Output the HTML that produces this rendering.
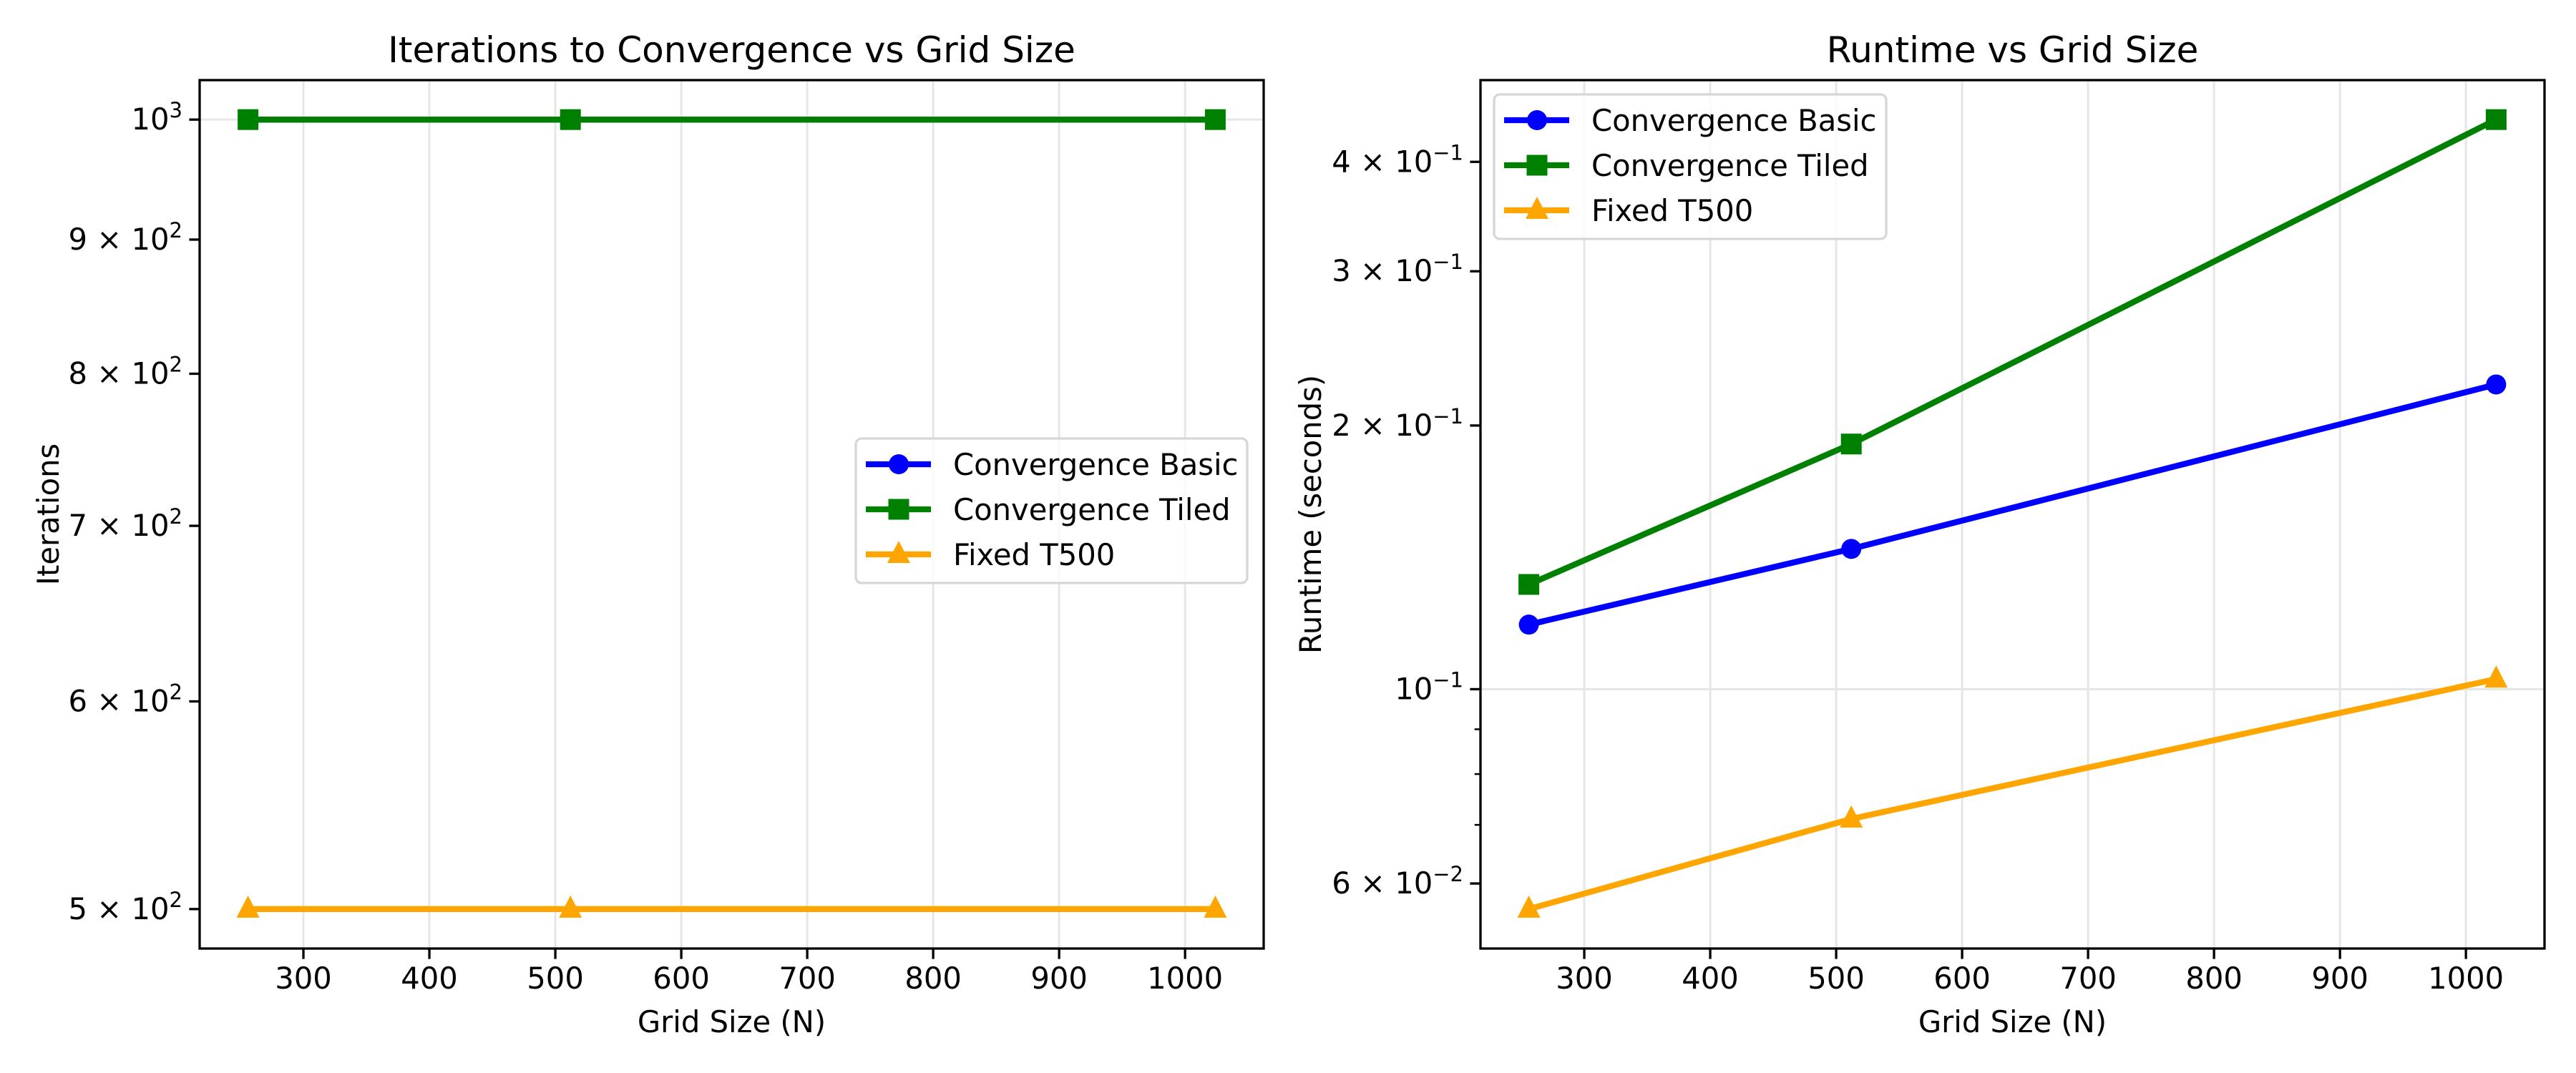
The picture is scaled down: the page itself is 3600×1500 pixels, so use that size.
<!DOCTYPE html>
<html><head><meta charset="utf-8"><style>
html,body{margin:0;padding:0;background:#fff;}
svg{display:block;font-family:"DejaVu Sans","Liberation Sans",sans-serif;}
</style></head><body>
<svg id="fig" width="3600" height="1500" viewBox="0 0 3600 1500" xmlns="http://www.w3.org/2000/svg"></svg>
<script>
const gridSizes = [256, 512, 1024];
const iterBasic = [1000, 1000, 1000];
const iterTiled = [1000, 1000, 1000];
const iterFixed = [500, 500, 500];
const rtBasic = [0.1185, 0.1446, 0.2228];
const rtTiled = [0.1317, 0.1905, 0.447];
const rtFixed = [0.0561, 0.0711, 0.1027];
const xTicks = [300, 400, 500, 600, 700, 800, 900, 1000];
const leftYTicks = [500, 600, 700, 800, 900, 1000];
const leftYLabels = [["5 × 10","2"],["6 × 10","2"],["7 × 10","2"],["8 × 10","2"],["9 × 10","2"],["10","3"]];
const leftGrid = [1000];
const rightYTicks = [0.06, 0.1, 0.2, 0.3, 0.4];
const rightYLabels = [["6 × 10","−2"],["10","−1"],["2 × 10","−1"],["3 × 10","−1"],["4 × 10","−1"]];
const rightGrid = [0.1];
const rightMinor = [0.07, 0.08, 0.09];
const seriesNames = ["Convergence Basic", "Convergence Tiled", "Fixed T500"];
const seriesColors = ["#0000ff", "#008000", "#ffa500"];

const NS = "http://www.w3.org/2000/svg";
const svg = document.getElementById("fig");
function mk(tag, attrs, parent) {
  const e = document.createElementNS(NS, tag);
  for (const k in attrs) e.setAttribute(k, attrs[k]);
  (parent || svg).appendChild(e);
  return e;
}

function panel(ax, title, ylabel, ylabX, series, yTicks, yLabels, yGrid, minor, legend) {
  const {x0, y0, w, h} = ax;
  const g = mk("g", {});
  
  
  const xmin = Math.min(...gridSizes), xmax = Math.max(...gridSizes);
  const xm = (xmax - xmin) * 0.05;
  const X = v => x0 + (v - (xmin - xm)) / ((xmax + xm) - (xmin - xm)) * w;
  const all = series.flat();
  const lmin = Math.log10(Math.min(...all)), lmax = Math.log10(Math.max(...all));
  const lm = (lmax - lmin) * 0.05;
  const Y = v => y0 + h - (Math.log10(v) - (lmin - lm)) / ((lmax + lm) - (lmin - lm)) * h;
  xTicks.forEach(t => {
    const l = mk("line", {x1: X(t), x2: X(t), y1: y0, y2: y0 + h, stroke: "#e6e6e6", "stroke-width": 3}, g);
    
    
  });
  yGrid.forEach(t => {
    const l = mk("line", {x1: x0, x2: x0 + w, y1: Y(t), y2: Y(t), stroke: "#e6e6e6", "stroke-width": 3}, g);
    
    
  });
  series.forEach((vals, si) => {
    const c = seriesColors[si];
    const pts = gridSizes.map((x, i) => X(x) + "," + Y(vals[i])).join(" ");
    const pl = mk("polyline", {points: pts, fill: "none", stroke: c, "stroke-width": 8.3, "stroke-linejoin": "round"}, g);
    
    
    gridSizes.forEach((x, i) => {
      const m = marker(si, X(x), Y(vals[i]), g);
      
      
    });
  });
  const fr = mk("rect", {x: x0, y: y0, width: w, height: h, fill: "none", stroke: "#000", "stroke-width": 3.3}, g);
  
  
  xTicks.forEach(t => {
    mk("line", {x1: X(t), x2: X(t), y1: y0 + h, y2: y0 + h + 14.6, stroke: "#000", "stroke-width": 3.3}, g);
    const tx = mk("text", {x: X(t), y: y0 + h + 56, "font-size": 41.7, "text-anchor": "middle"}, g);
    tx.textContent = t;
    
    
  });
  yTicks.forEach((t, i) => {
    mk("line", {x1: x0 - 14.6, x2: x0, y1: Y(t), y2: Y(t), stroke: "#000", "stroke-width": 3.3}, g);
    const tx = mk("text", {x: x0 - 24, y: Y(t) + 14, "font-size": 41.7, "text-anchor": "end"}, g);
    
    
    const a = mk("tspan", {}, tx); a.textContent = yLabels[i][0];
    const b = mk("tspan", {dy: -17, "font-size": 29}, tx); b.textContent = yLabels[i][1];
  });
  minor.forEach(t => {
    mk("line", {x1: x0 - 8.3, x2: x0, y1: Y(t), y2: Y(t), stroke: "#000", "stroke-width": 2.5}, g);
  });
  const tt = mk("text", {x: x0 + w / 2, y: y0 - 25, "font-size": 50, "text-anchor": "middle"}, g);
  tt.textContent = title;
  
  
  const xl = mk("text", {x: x0 + w / 2, y: y0 + h + 117, "font-size": 41.7, "text-anchor": "middle"}, g);
  xl.textContent = "Grid Size (N)";
  
  
  const yl = mk("text", {x: ylabX, y: y0 + h / 2, "font-size": 41.7, "text-anchor": "middle", transform: `rotate(-90 ${ylabX} ${y0 + h / 2})`}, g);
  yl.textContent = ylabel;
  
  
  const lg = mk("g", {}, g);
  
  
  mk("rect", {x: legend.x, y: legend.y, width: legend.w, height: 202, rx: 8, fill: "#fff", "fill-opacity": 0.8, stroke: "#d6d6d6", "stroke-width": 3.3}, lg);
  seriesNames.forEach((n, i) => {
    const ry = legend.y + 36 + i * 63;
    const e = mk("g", {}, lg);
    
    
    mk("line", {x1: legend.x + 14, x2: legend.x + 105, y1: ry, y2: ry, stroke: seriesColors[i], "stroke-width": 8.3}, e);
    marker(i, legend.x + 60, ry, e);
    const t = mk("text", {x: legend.x + 136, y: ry + 15, "font-size": 41.7}, e);
    t.textContent = n;
  });
}
function marker(si, cx, cy, parent) {
  const c = seriesColors[si];
  if (si === 0) return mk("circle", {cx, cy, r: 14, fill: c}, parent);
  if (si === 1) return mk("rect", {x: cx - 14.5, y: cy - 14.5, width: 29, height: 29, fill: c}, parent);
  return mk("polygon", {points: `${cx},${cy - 19} ${cx + 16},${cy + 12} ${cx - 16},${cy + 12}`, fill: c}, parent);
}

panel({x0: 279, y0: 112, w: 1487, h: 1214, name: "iterations-chart"},
  "Iterations to Convergence vs Grid Size", "Iterations", 82,
  [iterBasic, iterTiled, iterFixed], leftYTicks, leftYLabels, leftGrid, [],
  {x: 1196, y: 613, w: 547});
panel({x0: 2069, y0: 112, w: 1487, h: 1214, name: "runtime-chart"},
  "Runtime vs Grid Size", "Runtime (seconds)", 1846,
  [rtBasic, rtTiled, rtFixed], rightYTicks, rightYLabels, rightGrid, rightMinor,
  {x: 2088, y: 132, w: 548});
</script>
</body></html>
